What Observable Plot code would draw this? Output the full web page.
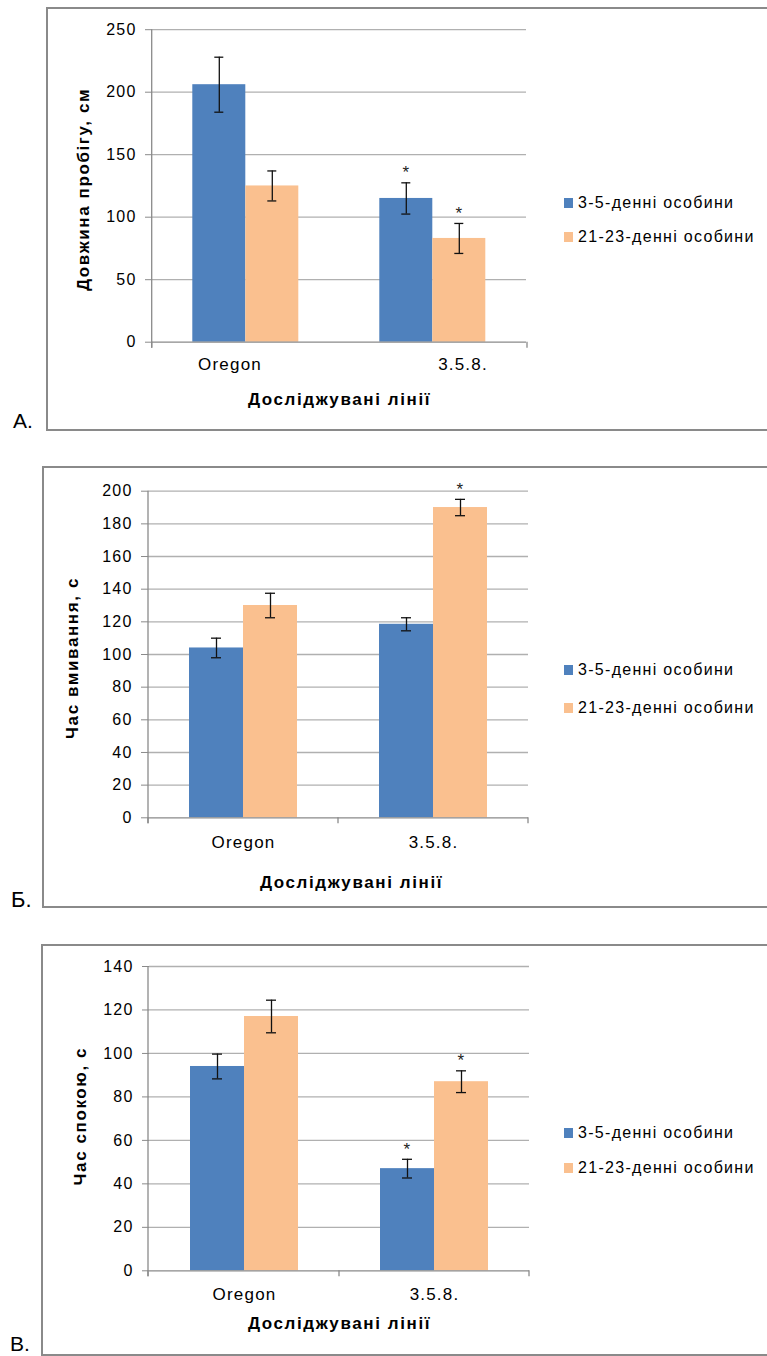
<!DOCTYPE html>
<html><head><meta charset="utf-8">
<script src="https://cdn.jsdelivr.net/npm/d3@7"></script>
<script src="https://cdn.jsdelivr.net/npm/@observablehq/plot@0.6"></script>
<style>
html,body{margin:0;padding:0;background:#fff;}
body{width:767px;height:1356px;position:relative;overflow:hidden;font-family:'Liberation Sans',Arial,sans-serif;color:#000;}
.frame{position:absolute;border:2px solid #8a8a8a;box-sizing:border-box;width:760px;}
.psvg{position:absolute;left:0;}
.letter{position:absolute;line-height:1;white-space:nowrap;}
.lg-text{position:absolute;font-size:16px;letter-spacing:1.3px;line-height:1;white-space:nowrap;}
.lg-sw{position:absolute;width:9px;height:10px;}
</style></head><body>
<script>
// ---------- shared ----------
const categories = ["Oregon", "3.5.8."];
const seriesNames = ["3-5-денні особини", "21-23-денні особини"];
const seriesColors = ["#4F81BD", "#FAC08F"];
const xTitle = "Досліджувані лінії";
const panelLetters = ["А.", "Б.", "В."];

// ---------- Panel А: run length ----------
const runLabel = "Довжина пробігу, см";
const runTicks = [0, 50, 100, 150, 200, 250];
const runYoung = [206, 115];
const runYoungErr = [22, 12.5];
const runYoungSig = [false, true];
const runOld = [125, 83];
const runOldErr = [12, 12];
const runOldSig = [false, true];

// ---------- Panel Б: grooming time ----------
const washLabel = "Час вмивання, с";
const washTicks = [0, 20, 40, 60, 80, 100, 120, 140, 160, 180, 200];
const washYoung = [104, 118.5];
const washYoungErr = [6, 4];
const washYoungSig = [false, false];
const washOld = [130, 190];
const washOldErr = [7.5, 5];
const washOldSig = [false, true];

// ---------- Panel В: rest time ----------
const restLabel = "Час спокою, с";
const restTicks = [0, 20, 40, 60, 80, 100, 120, 140];
const restYoung = [94, 47];
const restYoungErr = [5.7, 4.3];
const restYoungSig = [false, true];
const restOld = [117, 87];
const restOldErr = [7.5, 5];
const restOldSig = [false, true];

function buildRows(young, youngErr, youngSig, old, oldErr, oldSig) {
  const out = [];
  categories.forEach((c, i) => {
    out.push({cat: c, series: seriesNames[0], value: young[i], err: youngErr[i], sig: youngSig[i]});
    out.push({cat: c, series: seriesNames[1], value: old[i], err: oldErr[i], sig: oldSig[i]});
  });
  return out;
}

const panels = [
  {data: buildRows(runYoung, runYoungErr, runYoungSig, runOld, runOldErr, runOldSig),
   ticks: runTicks, yLabel: runLabel,
   top: 0, height: 440, mt: 29.2, mb: 98.3, ml: 151.7, mr: 240,
   catDx: [-16, 30], catDy: 22, midTick: false,
   yLabDx: -68.5, yLabDy: 3.5, titleDx: 0, titleDy: 57,
   frame: {left: 46, top: 7, height: 424},
   letter: {left: 13, top: 410, size: 21},
   legend: [208, 242]},
  {data: buildRows(washYoung, washYoungErr, washYoungSig, washOld, washOldErr, washOldSig),
   ticks: washTicks, yLabel: washLabel,
   top: 460, height: 460, mt: 30.7, mb: 102.7, ml: 148, mr: 239,
   catDx: [0, 0], catDy: 24.6, midTick: true,
   yLabDx: -76, yLabDy: 3.5, titleDx: 13, titleDy: 64.3,
   frame: {left: 42, top: 466, height: 442},
   letter: {left: 11, top: 889, size: 22},
   legend: [675.5, 713]},
  {data: buildRows(restYoung, restYoungErr, restYoungSig, restOld, restOldErr, restOldSig),
   ticks: restTicks, yLabel: restLabel,
   top: 930, height: 426, mt: 36, mb: 85.7, ml: 148, mr: 238,
   catDx: [0, 0], catDy: 23.8, midTick: true,
   yLabDx: -69, yLabDy: -2.5, titleDx: 0, titleDy: 52.3,
   frame: {left: 41, top: 944, height: 412},
   letter: {left: 10, top: 1333, size: 21},
   legend: [1138.3, 1173.3]}
];

panels.forEach((p, pi) => {
  // frame
  const fr = document.createElement("div");
  fr.className = "frame";
  fr.style.left = p.frame.left + "px";
  fr.style.top = p.frame.top + "px";
  fr.style.height = p.frame.height + "px";
  document.body.appendChild(fr);

  const ymax = p.ticks[p.ticks.length - 1];
  const lo = d => d.value - d.err;
  const hi = d => d.value + d.err;

  const plot = Plot.plot({
    width: 767, height: p.height,
    marginTop: p.mt, marginBottom: p.mb, marginLeft: p.ml, marginRight: p.mr,
    style: {fontFamily: "'Liberation Sans', Arial, sans-serif", fontSize: "16px", letterSpacing: "1.2px",
            background: "none", overflow: "visible", color: "#000"},
    fx: {domain: categories, paddingInner: 0, paddingOuter: 0, axis: null, label: null},
    x: {domain: seriesNames, paddingInner: 0, paddingOuter: 0.75, axis: null},
    y: {domain: [0, ymax], axis: null},
    color: {domain: seriesNames, range: seriesColors},
    marks: [
      Plot.ruleY(p.ticks.filter(t => t > 0), {stroke: "#b0b0b0", strokeWidth: 1.3}),
      Plot.barY(p.data, {fx: "cat", x: "series", y: "value", fill: "series"}),
      Plot.ruleY([0], {stroke: "#8a8a8a", strokeWidth: 1.3}),
      Plot.ruleX(p.data, {fx: "cat", x: "series", y1: lo, y2: hi, stroke: "#111", strokeWidth: 1.3}),
      Plot.tickY(p.data, {fx: "cat", x: "series", y: lo, stroke: "#111", strokeWidth: 1.3, insetLeft: 22, insetRight: 22}),
      Plot.tickY(p.data, {fx: "cat", x: "series", y: hi, stroke: "#111", strokeWidth: 1.3, insetLeft: 22, insetRight: 22}),
      Plot.text(p.data.filter(d => d.sig), {fx: "cat", x: "series", y: hi, text: () => "*", dy: -10, fontSize: 17, fill: "#222"}),
      Plot.axisY(p.ticks, {anchor: "left", tickSize: 7, tickPadding: 9, stroke: "#8a8a8a", fontSize: 16, label: null}),
      Plot.text([categories[0]], {fx: d => d, text: d => d, frameAnchor: "bottom", textAnchor: "middle", lineAnchor: "middle",
                                  dx: p.catDx[0], dy: p.catDy, fontSize: 17}),
      Plot.text([categories[1]], {fx: d => d, text: d => d, frameAnchor: "bottom", textAnchor: "middle", lineAnchor: "middle",
                                  dx: p.catDx[1], dy: p.catDy, fontSize: 17}),
      Plot.text([p.yLabel], {fx: () => categories[0], text: d => d, frameAnchor: "left", rotate: -90,
                             textAnchor: "middle", lineAnchor: "middle", dx: p.yLabDx, dy: p.yLabDy,
                             fontSize: 17, fontWeight: "bold"}),
      Plot.text([xTitle], {fx: () => categories[0], text: d => d, frameAnchor: "bottom-right",
                           textAnchor: "middle", lineAnchor: "middle", dx: p.titleDx, dy: p.titleDy,
                           fontSize: 17, fontWeight: "bold"})
    ]
  });
  plot.classList.add("psvg");
  plot.style.position = "absolute";
  plot.style.left = "0px";
  plot.style.top = p.top + "px";
  document.body.appendChild(plot);

  // wider tracking on the bold titles, as in the reference
  d3.select(plot).selectAll("g[font-weight='bold']").attr("letter-spacing", "1.6px");

  // axis lines and category-separator ticks derived from the plot's own scales
  const fxS = plot.scale("fx"), yS = plot.scale("y");
  const xa = fxS.range[0], xb = fxS.range[1];
  const y0 = yS.apply(0), yT = yS.apply(ymax);
  const svg = d3.select(plot);
  const g = svg.append("g").attr("stroke", "#8a8a8a").attr("stroke-width", 1.3);
  g.append("line").attr("x1", xa).attr("x2", xa).attr("y1", yT).attr("y2", y0 + 6);
  const tickXs = [xa, xb];
  if (p.midTick) tickXs.push(fxS.apply(categories[1]));
  tickXs.forEach(x => g.append("line").attr("x1", x).attr("x2", x).attr("y1", y0).attr("y2", y0 + 6));

  // legend
  seriesNames.forEach((s, i) => {
    const base = p.legend[i];
    const sw = document.createElement("div");
    sw.className = "lg-sw";
    sw.style.background = seriesColors[i];
    sw.style.left = "564px";
    sw.style.top = (base - 10.5) + "px";
    document.body.appendChild(sw);
    const t = document.createElement("div");
    t.className = "lg-text";
    t.textContent = s;
    t.style.left = "578px";
    t.style.top = (base - 13.5) + "px";
    document.body.appendChild(t);
  });

  // panel letter
  const L = document.createElement("div");
  L.className = "letter";
  L.textContent = panelLetters[pi];
  L.style.left = p.letter.left + "px";
  L.style.top = p.letter.top + "px";
  L.style.fontSize = p.letter.size + "px";
  document.body.appendChild(L);
});
</script>
</body></html>
